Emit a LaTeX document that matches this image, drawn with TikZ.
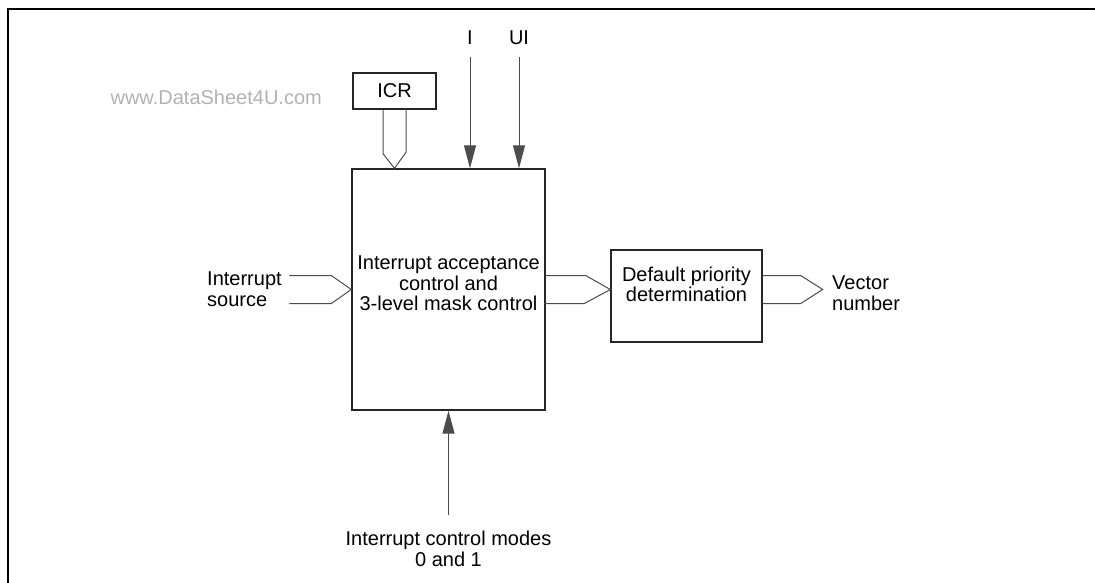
\documentclass[tikz,border=0pt]{standalone}
\usepackage{fontspec}
\setmainfont{Liberation Sans}
\usetikzlibrary{arrows.meta}
\usetikzlibrary{calc}
\usetikzlibrary{positioning}
\tikzset{>={Triangle[length=23pt,width=12pt]}}
\tikzset{
  blk_box/.style = {draw=black!85, line width=1.4pt, inner sep=0pt},
  blk_txt/.style = {align=center, inner sep=0pt, font=\fontsize{20}{20.5}\selectfont},
  bus_line/.style = {draw=black!70, line width=1pt, line join=miter},
  sig_line/.style = {->, draw=black!70, line width=1pt},
  frame_line/.style = {line width=2pt, black}
}
\begin{document}
\begin{tikzpicture}[x=1pt,y=-1pt]

    \useasboundingbox (0,0) rectangle (1095,583);
    \draw[frame_line] (8,583) -- (8,9.5) -- (1095,9.5);

    % blocks
    \node [blk_box, minimum width=193pt, minimum height=241pt] (main) at (448.5,289.5) {};
    \node [blk_txt] (main_t) at ([yshift=6pt]main.center) {Interrupt acceptance\\control and\\3-level mask control};
    \node [blk_box, blk_txt, minimum width=83pt, minimum height=36pt] (icr) at (394.5,91) {ICR};
    \node [blk_box, minimum width=151pt, minimum height=92pt] (prio) at (686.5,296) {};
    \node [blk_txt] (prio_t) at ([yshift=5pt]prio.center |- main.center) {Default priority\\determination};

    % labels
    \node [blk_txt, text=black!30, anchor=base east] (wmark) at (322,105) {www.DataSheet4U.com};
    \node [blk_txt, anchor=base] (sig_i) at (470,45) {I};
    \node [blk_txt, anchor=base] (sig_ui) at (519,45) {UI};
    \node [blk_txt, align=left, anchor=west] (src) at (207,289) {Interrupt\\source};
    \node [blk_txt, align=left, anchor=west] (vec) at (832,293) {Vector\\number};
    \node [blk_txt, anchor=north] (modes) at (448.5,531) {Interrupt control modes\\0 and 1};

    % hollow bus arrows
    \draw [bus_line] ($(icr.south)+(-11.5,0)$) -- ++(0,44) -- (icr.south |- main.north) -- ++(11.5,-16) -- ++(0,-44);
    \draw [bus_line] ($(main.west)+(-62,-14)$) -- ++(42,0) -- (main.west) -- ++(-20,14) -- ++(-42,0);
    \draw [bus_line] ($(main.east)+(0,-14)$) -- ++(40,0) -- (main.east -| prio.west) -- ++(-26,14) -- ++(-40,0);
    \draw [bus_line] ($(prio.east |- main.east)+(0,-14)$) -- ++(38,0) -- ++(22,14) -- ++(-22,14) -- ++(-38,0);

    % signal arrows
    \draw [sig_line] ([yshift=-12pt]sig_i.base) -- (sig_i.base |- main.north);
    \draw [sig_line] ([yshift=-12pt]sig_ui.base) -- (sig_ui.base |- main.north);
    \draw [sig_line] ([yshift=16pt]modes.north) -- (main.south);

\end{tikzpicture}
\end{document}
